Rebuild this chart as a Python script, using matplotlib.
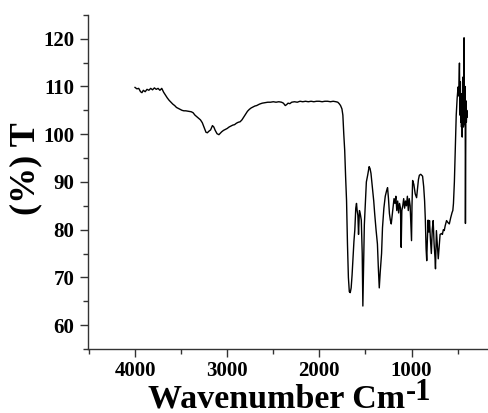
import matplotlib
matplotlib.use("Agg")
import matplotlib.pyplot as plt
from matplotlib.ticker import MultipleLocator

plt.rcParams["font.family"] = "Liberation Serif"
plt.rcParams["font.weight"] = "bold"

# FTIR spectrum (wavenumber in cm-1, %T)
wavenumber = [
    4000, 3980, 3960, 3940, 3925, 3910, 3890, 3870, 3850, 3830, 3810, 3790,
    3770, 3750, 3730, 3710, 3690, 3670, 3650, 3630, 3610, 3590, 3570, 3550,
    3530, 3510, 3490, 3470, 3450, 3420, 3390, 3370, 3350, 3320, 3290, 3270,
    3250, 3230, 3215, 3200, 3180, 3160, 3145, 3130, 3110, 3090, 3075, 3060,
    3040, 3020, 3000, 2980, 2960, 2940, 2920, 2900, 2880, 2860, 2840, 2820,
    2800, 2780, 2760, 2740, 2720, 2700, 2680, 2650, 2620, 2590, 2560, 2530,
    2500, 2470, 2440, 2410, 2390, 2370, 2355, 2340, 2320, 2300, 2270, 2240,
    2210, 2180, 2150, 2120, 2090, 2060, 2030, 2000, 1970, 1940, 1910, 1880,
    1850, 1820, 1800, 1785, 1770, 1755, 1745, 1735, 1725, 1715, 1705, 1695,
    1685, 1675, 1665, 1655, 1645, 1635, 1625, 1615, 1605, 1597, 1590, 1582,
    1575, 1565, 1555, 1545, 1535, 1528, 1520, 1512, 1500, 1490, 1475, 1460,
    1450, 1440, 1425, 1410, 1400, 1385, 1370, 1360, 1350, 1340, 1325, 1315,
    1300, 1285, 1270, 1260, 1250, 1240, 1230, 1220, 1210, 1200, 1190, 1180,
    1170, 1160, 1150, 1140, 1130, 1120, 1112, 1105, 1095, 1085, 1075, 1065,
    1055, 1045, 1035, 1025, 1015, 1005, 1000, 995, 988, 975, 960, 945,
    935, 925, 915, 900, 890, 880, 868, 858, 850, 842, 835, 828,
    820, 812, 805, 795, 785, 775, 765, 755, 745, 740, 735, 730,
    720, 710, 700, 690, 675, 665, 655, 645, 635, 620, 605, 590,
    575, 560, 552, 545, 535, 525, 515, 505, 495, 488, 480, 475,
    470, 466, 462, 458, 454, 450, 446, 443, 440, 437, 434, 430,
    427, 424, 421, 418, 415, 410, 405, 400, 395,
]
transmittance = [
    109.8, 109.5, 109.6, 108.9, 108.7, 109.2, 108.9, 109.4, 109.2, 109.6, 109.3, 109.7,
    109.4, 109.6, 109.2, 109.6, 108.8, 108.2, 107.6, 107.1, 106.7, 106.3, 106.0, 105.6,
    105.4, 105.2, 105.0, 104.9, 104.9, 104.8, 104.7, 104.5, 104.0, 103.5, 103.0, 102.4,
    101.4, 100.4, 100.3, 100.6, 100.9, 101.8, 101.5, 100.8, 100.1, 99.9, 100.2, 100.5,
    100.8, 101.0, 101.2, 101.5, 101.7, 101.9, 102.0, 102.3, 102.5, 102.6, 103.0, 103.6,
    104.2, 104.8, 105.2, 105.5, 105.7, 105.9, 106.0, 106.3, 106.5, 106.6, 106.7, 106.7,
    106.8, 106.7, 106.8, 106.7, 106.5, 106.0, 106.2, 106.5, 106.4, 106.7, 106.8, 106.7,
    106.9, 106.8, 106.9, 106.8, 106.9, 106.8, 106.9, 106.9, 106.8, 106.9, 106.9, 106.8,
    106.9, 106.8, 106.7, 106.4, 106.0, 105.3, 104.0, 100.0, 96.6, 91.0, 86.1, 77.0,
    70.0, 67.0, 66.8, 67.8, 70.5, 74.0, 77.5, 80.0, 84.5, 85.5, 84.0, 83.0,
    79.0, 84.0, 83.2, 82.0, 75.0, 64.0, 72.0, 81.0, 86.0, 90.0, 91.5, 93.2,
    92.8, 91.8, 89.0, 86.0, 83.4, 80.0, 77.0, 72.0, 67.8, 71.0, 75.0, 80.4,
    84.5, 87.0, 88.2, 88.8, 86.5, 83.4, 82.0, 81.2, 83.0, 85.0, 86.5, 85.5,
    87.0, 84.0, 86.0, 83.5, 85.5, 84.5, 76.3, 84.0, 85.0, 86.5, 84.5, 86.0,
    85.0, 87.0, 84.0, 86.5, 85.0, 80.0, 77.7, 85.0, 90.3, 89.5, 87.5, 86.7,
    88.5, 90.5, 91.4, 91.6, 91.4, 91.2, 89.0, 86.0, 82.0, 76.0, 73.5, 78.0,
    82.0, 79.5, 81.9, 78.0, 75.0, 80.0, 81.9, 77.0, 74.0, 71.8, 76.0, 79.8,
    77.0, 73.9, 76.5, 79.0, 79.2, 79.0, 80.0, 79.8, 80.8, 81.9, 81.5, 81.2,
    82.5, 83.6, 84.0, 85.5, 90.0, 97.0, 104.0, 107.5, 109.9, 108.0, 114.9, 104.0,
    111.0, 102.5, 108.5, 101.5, 107.0, 99.4, 106.5, 103.0, 112.0, 101.5, 108.0, 120.2,
    104.0, 106.5, 102.0, 110.0, 81.3, 107.0, 102.5, 105.0, 103.6,
]

x_ticks = [4000, 3000, 2000, 1000]
y_ticks = [60, 70, 80, 90, 100, 110, 120]

W, H = 489, 413
fig = plt.figure(figsize=(W / 100, H / 100), dpi=100)
ax = fig.add_axes([0.18, 0.155, 0.818, 0.809])

ax.plot(wavenumber, transmittance, color="black", linewidth=1.0)

ax.set_xlim(4510, 170)
ax.set_ylim(55, 125)
ax.set_xticks(x_ticks)
ax.set_yticks(y_ticks)
ax.xaxis.set_minor_locator(MultipleLocator(500))
ax.yaxis.set_minor_locator(MultipleLocator(5))

ax.spines["top"].set_visible(False)
ax.spines["right"].set_visible(False)
for side in ("left", "bottom"):
    ax.spines[side].set_color("#333333")
    ax.spines[side].set_linewidth(1.0)

ax.tick_params(which="major", direction="out", length=6, width=1.0,
               color="#333333", labelsize=15)
ax.tick_params(axis="x", which="major", pad=3)
ax.tick_params(axis="y", which="major", pad=4)
ax.tick_params(which="minor", direction="out", length=3.5, width=1.0,
               color="#333333")

ax.set_ylabel("(%) T", fontsize=26, fontweight="bold")
ax.yaxis.set_label_coords(-0.115, 0.54)

# x label: big superscript as its own text so it sits like the original
main = fig.text(0, 0, "Wavenumber Cm", fontsize=24.5, fontweight="bold",
                va="baseline", ha="left")
sup = fig.text(0, 0, "-1", fontsize=22, fontweight="bold",
               va="baseline", ha="left")
renderer = fig.canvas.get_renderer()
w_main = main.get_window_extent(renderer).width
w_sup = sup.get_window_extent(renderer).width
center = 289
x0 = center - (w_main + w_sup) / 2
main.set_position((x0 / W, (H - 408) / H))
sup.set_position(((x0 + w_main + 1) / W, (H - 400) / H))

fig.savefig("out.png", dpi=100)
